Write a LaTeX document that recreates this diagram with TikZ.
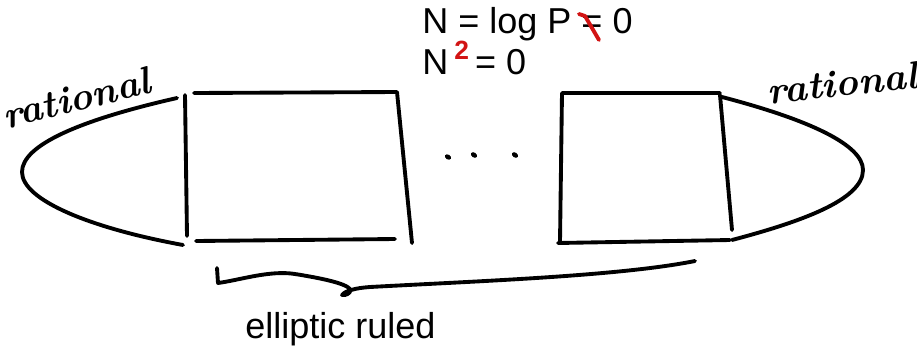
\documentclass[tikz,border=0pt]{standalone}
\usepackage{fontspec}
\newfontfamily\helv{Liberation Sans}
\usepackage{xcolor}
\usepackage{tikz}
\usetikzlibrary{positioning}
\definecolor{inkred}{RGB}{210, 20, 20}

\begin{document}
\begin{tikzpicture}[
    x=0.02cm, y=-0.02cm,
    % Pen stroke style
    pen/.style={line width=2.2pt, line cap=round, line join=round},
    redpen/.style={pen, draw=inkred},
    % Printed text
    lbl/.style={font=\helv\fontsize{20.5}{24}\selectfont, inner sep=0pt, anchor=base west},
    % Handwritten words
    hand/.style={font=\rmfamily\bfseries\itshape\fontsize{22}{22}\selectfont, inner sep=0pt},
    dot/.style={fill=black}
]
    \useasboundingbox (0,0) rectangle (917,353);

    % --- LEFT CAP (rational) ---
    \draw[pen] (177,98) .. controls (80,120) and (22,145) .. (22,172)
               .. controls (22,200) and (90,228) .. (183,245);
    \draw[pen] (185,95) -- (187,236);
    \node[hand, rotate=14] (ratL) at (76,98) {rational};

    % --- LEFT BOX ---
    \draw[pen] (194,93) -- (397,92) -- (412,243);
    \draw[pen] (196,241) -- (395,239);

    % --- DOTS ---
    \fill[dot, rotate around={-30:(448,157)}] (448,157) ellipse (3.4 and 2.4);
    \fill[dot, rotate around={-35:(474,155)}] (474,155) ellipse (3.4 and 2.4);
    \fill[dot, rotate around={-35:(515,155)}] (515,155) ellipse (3.4 and 2.4);

    % --- RIGHT BOX ---
    \draw[pen] (560,242) -- (562,93) -- (720,93);
    \draw[pen] (720,95) -- (732,230);
    \draw[pen] (558,243) -- (730,240);

    % --- RIGHT CAP (rational) ---
    \draw[pen] (722,97) .. controls (810,120) and (863,145) .. (863,170)
               .. controls (863,200) and (800,222) .. (732,240);
    \node[hand, rotate=6] (ratR) at (842,83) {rational};

    % --- EQUATIONS ---
    \node[lbl] (eqA) at (422,33) {N = log P = 0};
    \draw[redpen] (579,14) -- (585,16) -- (599,40);
    \node[lbl] (eqB) at (422,74) {N\,\raisebox{0.4em}{\color{inkred}\bfseries\fontsize{15}{15}\selectfont 2}\,= 0};

    % --- BRACE ---
    \draw[pen] (217,268) -- (218,283) .. controls (240,280) and (270,270) .. (295,274)
               .. controls (320,278) and (345,283) .. (350,289)
               .. controls (352,293) and (345,296) .. (342,295)
               .. controls (345,291) and (355,288) .. (370,287)
               .. controls (480,281) and (620,276) .. (695,261);
    \node[lbl] (ruled) at (245,338) {elliptic ruled};

\end{tikzpicture}
\end{document}
